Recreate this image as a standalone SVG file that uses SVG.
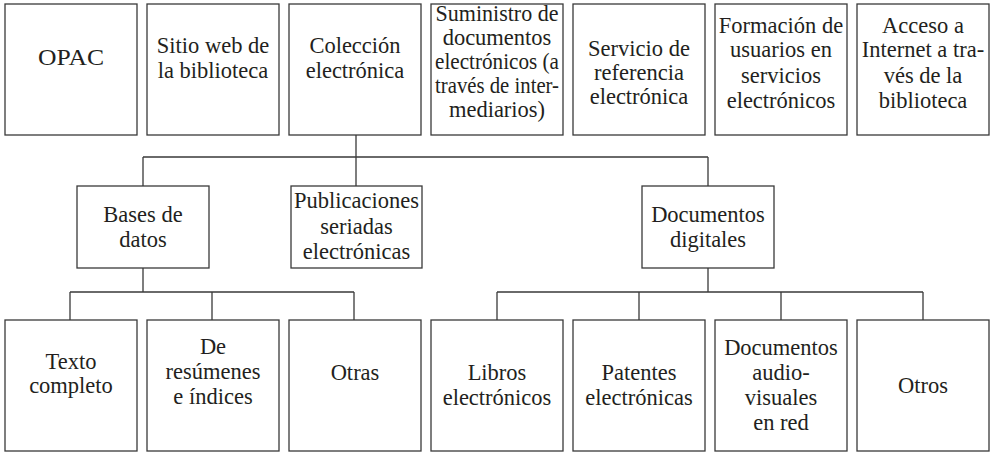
<svg xmlns="http://www.w3.org/2000/svg" width="994" height="453" viewBox="0 0 994 453">
<style>
rect.b{fill:#fff;stroke:#3a3a3a;stroke-width:1.3}
text{font-family:"Liberation Serif","Times New Roman",serif;font-size:22.5px;fill:#231f20;text-anchor:middle}
#connectors path{fill:none;stroke:#3a3a3a;stroke-width:1.3}
</style>
<rect width="994" height="453" fill="#fff"/>
<g id="connectors">
<path d="M356 135V157M143 157H708M143 157V186M356 157V186M708 157V186"/>
<path d="M143 268V292M70 292H354M70 292V320M212 292V320M354 292V320"/>
<path d="M708 268V292M497 292H923M497 292V320M639 292V320M781 292V320M923 292V320"/>
</g>
<g id="opac"><rect class="b" x="5" y="4" width="132" height="131"/><text x="71" y="65" textLength="66" lengthAdjust="spacingAndGlyphs">OPAC</text></g>
<g id="sitio"><rect class="b" x="147" y="4" width="132" height="131"/><text x="213" y="53">Sitio web de</text><text x="213" y="78">la biblioteca</text></g>
<g id="coleccion"><rect class="b" x="289" y="4" width="132" height="131"/><text x="355" y="53">Colección</text><text x="355" y="78">electrónica</text></g>
<g id="suministro"><rect class="b" x="431" y="4" width="132" height="131"/><text x="497" y="21" textLength="123" lengthAdjust="spacingAndGlyphs">Suministro de</text><text x="497" y="45">documentos</text><text x="497" y="69" textLength="124" lengthAdjust="spacingAndGlyphs">electrónicos (a</text><text x="497" y="93" textLength="124" lengthAdjust="spacingAndGlyphs">través de inter-</text><text x="497" y="117">mediarios)</text></g>
<g id="servicio"><rect class="b" x="573" y="4" width="132" height="131"/><text x="639" y="56">Servicio de</text><text x="639" y="80">referencia</text><text x="639" y="104">electrónica</text></g>
<g id="formacion"><rect class="b" x="715" y="4" width="132" height="131"/><text x="781" y="33">Formación de</text><text x="781" y="57">usuarios en</text><text x="781" y="83">servicios</text><text x="781" y="108">electrónicos</text></g>
<g id="acceso"><rect class="b" x="857" y="4" width="132" height="131"/><text x="923" y="33">Acceso a</text><text x="923" y="57">Internet a tra-</text><text x="923" y="83">vés de la</text><text x="923" y="108">biblioteca</text></g>
<g id="bases"><rect class="b" x="77" y="186" width="132" height="82"/><text x="143" y="222">Bases de</text><text x="143" y="247">datos</text></g>
<g id="publicaciones"><rect class="b" x="291" y="186" width="131" height="82"/><text x="356.5" y="208">Publicaciones</text><text x="356.5" y="234">seriadas</text><text x="356.5" y="259">electrónicas</text></g>
<g id="documentos"><rect class="b" x="642" y="186" width="132" height="82"/><text x="708" y="222">Documentos</text><text x="708" y="247">digitales</text></g>
<g id="texto"><rect class="b" x="5" y="320" width="132" height="131"/><text x="71" y="369">Texto</text><text x="71" y="393">completo</text></g>
<g id="resumenes"><rect class="b" x="147" y="320" width="132" height="131"/><text x="213" y="354">De</text><text x="213" y="379">resúmenes</text><text x="213" y="404">e índices</text></g>
<g id="otras"><rect class="b" x="289" y="320" width="132" height="131"/><text x="355" y="380">Otras</text></g>
<g id="libros"><rect class="b" x="431" y="320" width="132" height="131"/><text x="497" y="380">Libros</text><text x="497" y="405">electrónicos</text></g>
<g id="patentes"><rect class="b" x="573" y="320" width="132" height="131"/><text x="639" y="380">Patentes</text><text x="639" y="405">electrónicas</text></g>
<g id="audiovisuales"><rect class="b" x="715" y="320" width="132" height="131"/><text x="781" y="355">Documentos</text><text x="781" y="380">audio-</text><text x="781" y="405">visuales</text><text x="781" y="430">en red</text></g>
<g id="otros"><rect class="b" x="857" y="320" width="132" height="131"/><text x="923" y="393">Otros</text></g>
</svg>
